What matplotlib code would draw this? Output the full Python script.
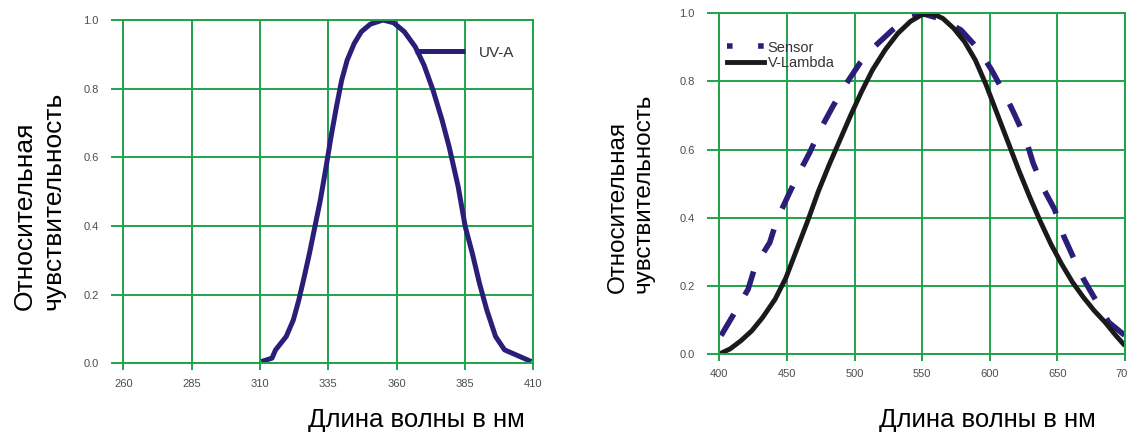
import matplotlib
matplotlib.use("Agg")
import matplotlib.pyplot as plt
from matplotlib.lines import Line2D

plt.rcParams['font.family'] = ['Liberation Sans', 'DejaVu Sans']

# --- data -------------------------------------------------------------
uva_nm = [310.5, 314.4, 315.7, 319.6, 322.2, 324.2, 326.2, 328.1, 330.1, 332.1,
          334.0, 336.0, 338.0, 339.9, 341.9, 344.5, 347.1, 350.4, 355.0, 358.9,
          362.8, 366.8, 370.0, 373.3, 376.6, 379.2, 382.5, 385.1, 387.7, 390.3,
          393.0, 396.2, 399.5, 404.7, 409.3]
uva_val = [0.005, 0.015, 0.039, 0.078, 0.126, 0.184, 0.252, 0.320, 0.398, 0.476,
           0.563, 0.660, 0.748, 0.825, 0.883, 0.932, 0.966, 0.988, 1.000, 0.992,
           0.966, 0.922, 0.869, 0.796, 0.709, 0.631, 0.515, 0.398, 0.320, 0.233,
           0.155, 0.078, 0.039, 0.021, 0.005]

vl_nm = [400, 408, 416, 424, 432, 441.3, 449.3, 457.3, 465.3, 473.3, 481.3,
         489.3, 497.3, 505.3, 513.3, 522.7, 532, 541.3, 549.3, 557.3, 565.3,
         573.3, 581.3, 589.3, 597.3, 605.3, 613.3, 621.3, 629.3, 637.3, 645.3,
         653.3, 661.3, 669.3, 677.3, 685.3, 693.3, 700]
vl_val = [0.0, 0.015, 0.039, 0.068, 0.107, 0.161, 0.224, 0.307, 0.39, 0.478,
          0.556, 0.629, 0.702, 0.771, 0.834, 0.893, 0.941, 0.976, 0.995, 1.0,
          0.985, 0.956, 0.917, 0.863, 0.79, 0.707, 0.624, 0.541, 0.463, 0.39,
          0.322, 0.263, 0.21, 0.166, 0.127, 0.093, 0.054, 0.024]

sensor_nm = [401.3, 410.7, 421.3, 426.7, 437.3, 442.7, 450.7, 458.7, 466.7,
             474.7, 484, 493.3, 504, 514.7, 528, 541.3, 549.3, 562.7, 578.7,
             592, 601.3, 612, 618.7, 626.7, 632, 640, 648, 654.7, 661.3, 669.3,
             678.7, 688, 700]
sensor_val = [0.054, 0.117, 0.19, 0.26, 0.327, 0.395, 0.463, 0.53, 0.59, 0.659,
              0.727, 0.79, 0.854, 0.902, 0.951, 0.99, 1.0, 0.985, 0.951, 0.893,
              0.834, 0.756, 0.70, 0.63, 0.561, 0.483, 0.424, 0.346, 0.288, 0.22,
              0.156, 0.093, 0.054]

uva_ticks = [260, 285, 310, 335, 360, 385, 410]
vis_ticks = [400, 450, 500, 550, 600, 650, 700]
y_ticks = [0.0, 0.2, 0.4, 0.6, 0.8, 1.0]

ylabel_text = "Относительная\nчувствительность"
xlabel_text = "Длина волны в нм"

# --- style --------------------------------------------------------------
GREEN = '#1fa34a'
NAVY = '#2a1f78'
BLACK = '#1a1a1a'
TICKTXT = '#4d4d4d'

W, H = 1127, 432
fig = plt.figure(figsize=(W / 100, H / 100), dpi=100)


def px_axes(x0, y0, x1, y1):
    """Axes from pixel box (left, top, right, bottom)."""
    return fig.add_axes([x0 / W, 1 - y1 / H, (x1 - x0) / W, (y1 - y0) / H])


def style_axes(ax, xticks, xlim):
    ax.set_xlim(*xlim)
    ax.set_ylim(0, 1)
    ax.set_xticks(xticks)
    ax.set_yticks(y_ticks)
    ax.set_yticklabels([f"{v:.1f}" for v in y_ticks])
    ax.set_axisbelow(True)
    ax.grid(True, color=GREEN, linewidth=1.4)
    for s in ax.spines.values():
        s.set_color(GREEN)
        s.set_linewidth(1.4)
    ax.tick_params(axis='y', direction='out', length=8.6, width=1.4,
                   color=GREEN, labelsize=8, labelcolor=TICKTXT, pad=9)
    ax.tick_params(axis='x', direction='out', length=5, width=1.4,
                   color=GREEN, labelsize=8, labelcolor=TICKTXT, pad=6)


# --- left panel: UV-A ---------------------------------------------------
ax1 = px_axes(123.3, 20, 533.3, 363.3)
style_axes(ax1, uva_ticks, (260, 410))
uva_line, = ax1.plot(uva_nm, uva_val, color=NAVY, linewidth=3.6,
                     solid_capstyle='butt', solid_joinstyle='round',
                     label='UV-A')
ax1.legend(handles=[uva_line], loc='center left',
           bbox_to_anchor=(0.711, 0.905), frameon=False, fontsize=11,
           handlelength=3.3, handletextpad=0.9, borderpad=0,
           borderaxespad=0, labelcolor='#333333')

fig.text(39 / W, 1 - 310 / H, ylabel_text, rotation=90, ha='center',
         va='bottom', multialignment='left', fontsize=19, color='black')
fig.text(416 / W, 1 - 420 / H, xlabel_text, ha='center', va='center',
         fontsize=18.5, color='black')

# --- right panel: Sensor vs V-Lambda -------------------------------------
ax2 = px_axes(719.3, 13.3, 1125, 354)
style_axes(ax2, vis_ticks, (400, 700))
ax2.plot(sensor_nm, sensor_val, color=NAVY, linewidth=4,
         linestyle=(0, (4.5, 4)), dash_capstyle='butt')
ax2.plot(vl_nm, vl_val, color=BLACK, linewidth=3.5, solid_capstyle='butt',
         solid_joinstyle='round')

sensor_key = Line2D([], [], color=NAVY, linewidth=4,
                    linestyle=(0, (1, 4.6)), dash_capstyle='butt')
vl_key = Line2D([], [], color=BLACK, linewidth=3.5)
ax2.legend([sensor_key, vl_key], ['Sensor', 'V-Lambda'], loc='upper left',
           bbox_to_anchor=(0.02, 0.92), frameon=False, fontsize=10.5,
           handlelength=2.5, handletextpad=0.25, labelspacing=0.1,
           borderpad=0, borderaxespad=0, labelcolor='#333333')

fig.text(631 / W, 1 - 293 / H, ylabel_text, rotation=90, ha='center',
         va='bottom', multialignment='left', fontsize=17.5, color='black')
fig.text(987.5 / W, 1 - 420 / H, xlabel_text, ha='center', va='center',
         fontsize=18.5, color='black')

fig.savefig('out.png', dpi=100)
